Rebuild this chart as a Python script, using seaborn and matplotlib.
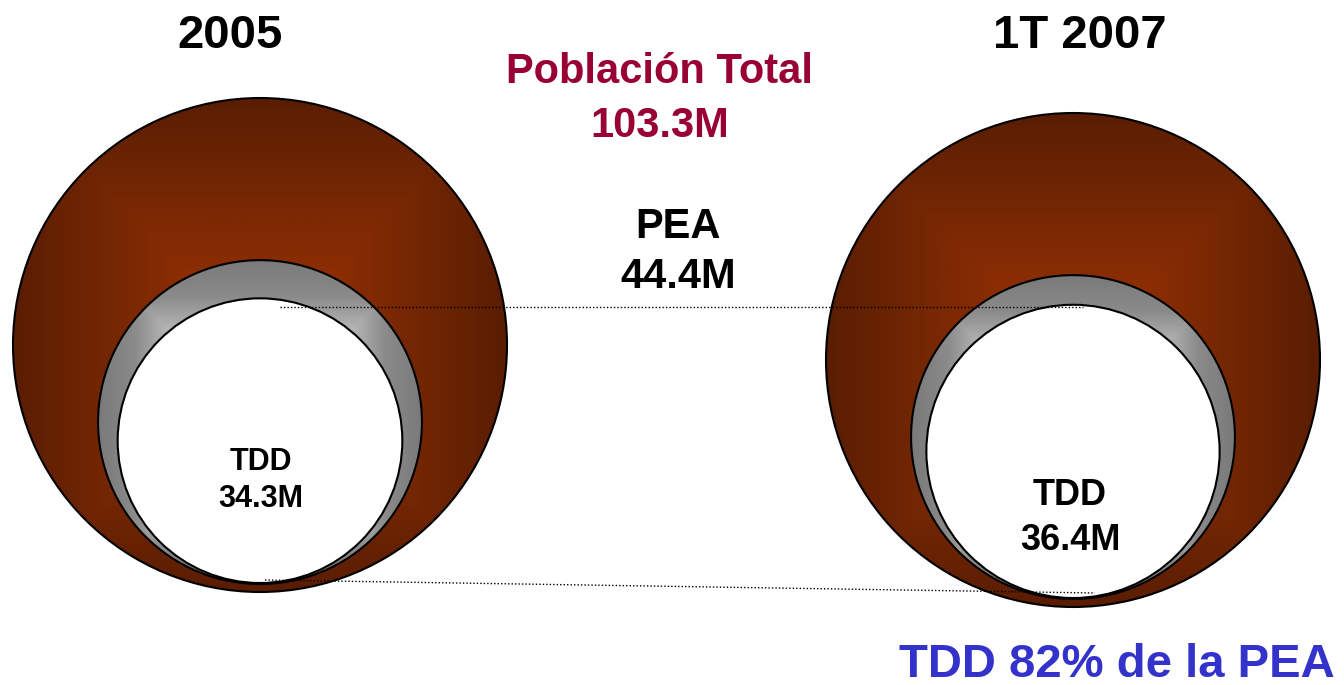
import numpy as np
import matplotlib
matplotlib.use("Agg")
import matplotlib.pyplot as plt
from matplotlib.colors import LinearSegmentedColormap
from matplotlib.patches import Circle
import seaborn as sns

# data (millions)
years = ["2005", "1T 2007"]
poblacion_total = [103.3, 103.3]
pea = [44.4, 44.4]
tdd = [34.3, 36.4]

sns.set_theme(style="white")
plt.rcParams["font.family"] = ["Liberation Sans", "DejaVu Sans"]
plt.rcParams["font.weight"] = "bold"

W, H = 1344, 685
fig = plt.figure(figsize=(W / 100, H / 100), dpi=100)
ax = fig.add_axes([0, 0, 1, 1])
ax.set_xlim(0, W)
ax.set_ylim(H, 0)
ax.axis("off")

brown = LinearSegmentedColormap.from_list(
    "brown", [(0, "#952F02"), (0.3, "#8C2D03"), (0.65, "#722603"), (1, "#5A1D02")])
grey = LinearSegmentedColormap.from_list(
    "grey", [(0, "#C8C8C8"), (0.55, "#BBBBBB"), (0.65, "#A6A6A6"),
             (0.78, "#8A8A8A"), (1, "#7A7A7A")])

# scale: radius of the biggest bubble in pixels, bubble area ~ value
R = 247
centers_x = [260, 1073]
bottoms = [592, 607]


def radius(v):
    return R * np.sqrt(v / max(poblacion_total))


def bubble(cx, cy, r, cmap=None, face="white", z=1):
    circ = Circle((cx, cy), r, facecolor=face if cmap is None else "none",
                  edgecolor="black", lw=1.5, zorder=z + 0.5)
    ax.add_patch(circ)
    if cmap is not None:
        u = np.linspace(-1, 1, 300)
        uu, vv = np.meshgrid(u, u)
        t = np.maximum(np.abs(uu), np.abs(vv))
        im = ax.imshow(t, cmap=cmap, vmin=0, vmax=1, extent=(cx - r, cx + r, cy + r, cy - r),
                       interpolation="bilinear", zorder=z)
        clip = Circle((cx, cy), r, transform=ax.transData)
        im.set_clip_path(clip)


white_geo = []
for i in range(len(years)):
    cx = centers_x[i]
    r0 = radius(poblacion_total[i])
    r1 = radius(pea[i])
    r2 = radius(tdd[i])
    b = bottoms[i]
    bubble(cx, b - r0, r0, cmap=brown, z=1)
    bubble(cx, b - 8 - r1, r1, cmap=grey, z=2)
    bubble(cx, b - 9 - r2, r2, face="white", z=3)
    white_geo.append((cx, b - 9 - 2 * r2, b - 9))

    ax.text(cx - 30 if i == 0 else cx + 7, 48, years[i], ha="center", va="baseline",
            fontsize=34, fontweight="bold", color="black")

# dotted guide lines between the two years
top_y = white_geo[1][1]
sns.lineplot(x=[white_geo[0][0] + 20, white_geo[1][0] + 10], y=[top_y + 2, top_y + 2],
             ax=ax, color="black", linestyle=(0, (1, 1.5)), lw=1, zorder=6)
sns.lineplot(x=[white_geo[0][0] + 5, white_geo[1][0] + 22],
             y=[white_geo[0][2] - 3, white_geo[1][2] - 5],
             ax=ax, color="black", linestyle=(0, (1, 1.5)), lw=1, zorder=6)

# labels
ax.text(660, 83, "Población Total", ha="center", va="baseline", fontsize=30,
        color="#990033", zorder=8)
ax.text(660, 137, f"{poblacion_total[0]}M", ha="center", va="baseline", fontsize=30,
        color="#990033", zorder=8)
ax.text(678, 238, "PEA", ha="center", va="baseline", fontsize=30, color="black", zorder=8)
ax.text(678, 288, f"{pea[0]}M", ha="center", va="baseline", fontsize=30, color="black", zorder=8)

ax.text(261, 470, "TDD", ha="center", va="baseline", fontsize=22, color="black", zorder=8)
ax.text(261, 507, f"{tdd[0]}M", ha="center", va="baseline", fontsize=22, color="black", zorder=8)
ax.text(1070, 505, "TDD", ha="center", va="baseline", fontsize=26, color="black", zorder=8)
ax.text(1070, 550, f"{tdd[1]}M", ha="center", va="baseline", fontsize=26, color="black", zorder=8)

share = round(100 * tdd[1] / pea[1])
ax.text(1335, 677, f"TDD {share}% de la PEA", ha="right", va="baseline", fontsize=34,
        color="#3333CC", zorder=8)

fig.savefig("out.png", dpi=100, facecolor="white")
